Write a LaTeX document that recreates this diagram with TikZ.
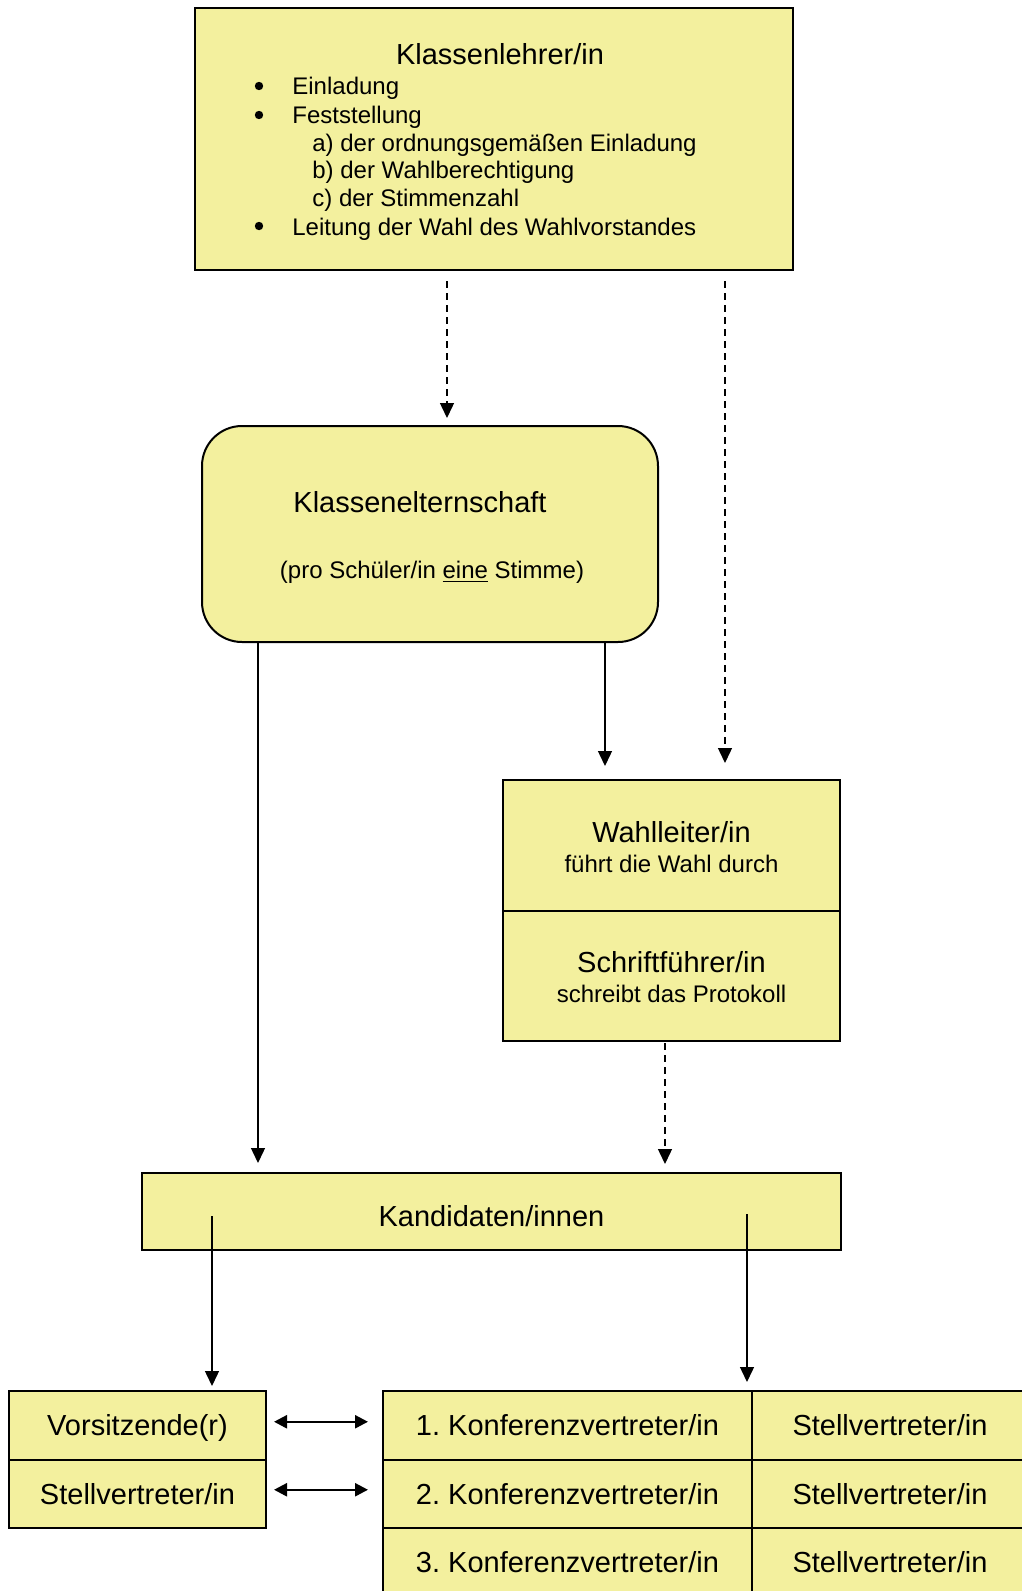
\documentclass[tikz,border=0pt]{standalone}
\usepackage{fontspec}
\setmainfont{Liberation Sans}
\usepackage{xcolor}
\usepackage{tikz}
\usetikzlibrary{arrows.meta}
\definecolor{boxfill}{RGB}{243,240,158}

\begin{document}
\begin{tikzpicture}[x=0.5pt,y=-0.5pt,
  bx/.style={draw,line width=1pt,fill=boxfill,inner sep=0pt,outer sep=0pt},
  big/.style={font=\fontsize{14.5}{17}\selectfont},
  sm/.style={font=\fontsize{12}{15}\selectfont},
  txt/.style={inner sep=0pt,anchor=base west},
  dot/.style={circle,fill,inner sep=0pt,minimum size=4.2pt},
  cl/.style={bx,big,minimum height=34.25pt,text height=10.5pt,text depth=0pt},
  ar/.style={line width=0.7pt,-{Triangle[length=7.5pt,width=7pt]}},
  dar/.style={ar,dash pattern=on 3.5pt off 2.5pt},
  bar/.style={line width=1.2pt,{Triangle[length=6.5pt,width=6.5pt]}-{Triangle[length=6.5pt,width=6.5pt]}}]
 \useasboundingbox (0,0) rectangle (1022,1591);
 \clip (0,0) rectangle (1022,1591);
 \node[bx,minimum width=299pt,minimum height=131pt] (lehrer) at (494,139) {};
 \node[big,inner sep=0pt,anchor=base] (l0) at (500,64) {Klassenlehrer/in};
 \foreach \n/\y in {b1/86,b2/115,b3/226}
   \node[dot] (\n) at (259,\y) {};
 \node[sm,txt] (l1) at (292,94) {Einladung};
 \node[sm,txt] (l2) at (292,123.5) {Feststellung};
 \node[sm,txt] (l3) at (312,151) {a) der ordnungsgemäßen Einladung};
 \node[sm,txt] (l4) at (312,178) {b) der Wahlberechtigung};
 \node[sm,txt] (l5) at (312,206.5) {c) der Stimmenzahl};
 \node[sm,txt] (l6) at (292,235) {Leitung der Wahl des Wahlvorstandes};

 \node[bx,rounded corners=20pt,minimum width=228pt,minimum height=108pt] (eltern) at (430,534) {};
 \node[big,inner sep=0pt,anchor=base] (e1) at (420,512) {Klassenelternschaft};
 \node[sm,inner sep=0pt,anchor=base] (e2) at (432,578.5) {(pro Schüler/in \underline{eine} Stimme)};

 \node[bx,sm,align=center,minimum width=168.5pt,minimum height=65.5pt] (wl) at (671.5,845.5)
   {\rule{0pt}{12pt}{\fontsize{14.5}{15}\selectfont Wahlleiter/in}\\führt die Wahl durch};
 \node[bx,sm,align=center,minimum width=168.5pt,minimum height=65pt] (sf) at (671.5,976)
   {\rule{0pt}{11.5pt}{\fontsize{14.5}{15}\selectfont Schriftführer/in}\\schreibt das Protokoll};

 \node[bx,big,minimum width=349.5pt,minimum height=38.5pt,text height=14.5pt,text depth=0pt] (kand) at (491.5,1211.5) {Kandidaten/innen};

 \node[cl,minimum width=128.5pt] (vors) at (137.5,1425.25) {Vorsitzende(r)};
 \node[cl,minimum width=128.5pt] (stv0) at (137.5,1493.75) {Stellvertreter/in};
 \foreach \i/\y in {1/1425.25,2/1493.75,3/1562.25} {
   \node[cl,minimum width=184.5pt] (konf\i) at (567.5,\y) {\i.\ Konferenzvertreter/in};
   \node[cl,minimum width=138pt] (stv\i) at (890,\y) {Stellvertreter/in};}

 \draw[dar] ([shift={(-47,11)}]lehrer.south) -- ([shift={(17,-8)}]eltern.north);
 \draw[dar] ([shift={(231,11)}]lehrer.south) -- ([shift={(53.5,-17)}]wl.north);
 \draw[ar] ([shift={(-172,0)}]eltern.south) -- ([shift={(-233.5,-10)}]kand.north);
 \draw[ar] ([shift={(175,0)}]eltern.south) -- ([shift={(-66.5,-14)}]wl.north);
 \draw[dar] ([shift={(-6.5,2)}]sf.south) -- ([shift={(173.5,-9)}]kand.north);
 \draw[ar] ([shift={(-279.5,4.5)}]kand.center) -- ([shift={(74.5,-5)}]vors.north);
 \draw[ar] ([shift={(255.5,2.5)}]kand.center) -- ([shift={(179.5,-9)}]konf1.north);
 \draw[bar] ([shift={(8,-3.5)}]vors.east) -- ([shift={(-15,-3.5)}]konf1.west);
 \draw[bar] ([shift={(8,-4)}]stv0.east) -- ([shift={(-15,-4)}]konf2.west);
\end{tikzpicture}
\end{document}
